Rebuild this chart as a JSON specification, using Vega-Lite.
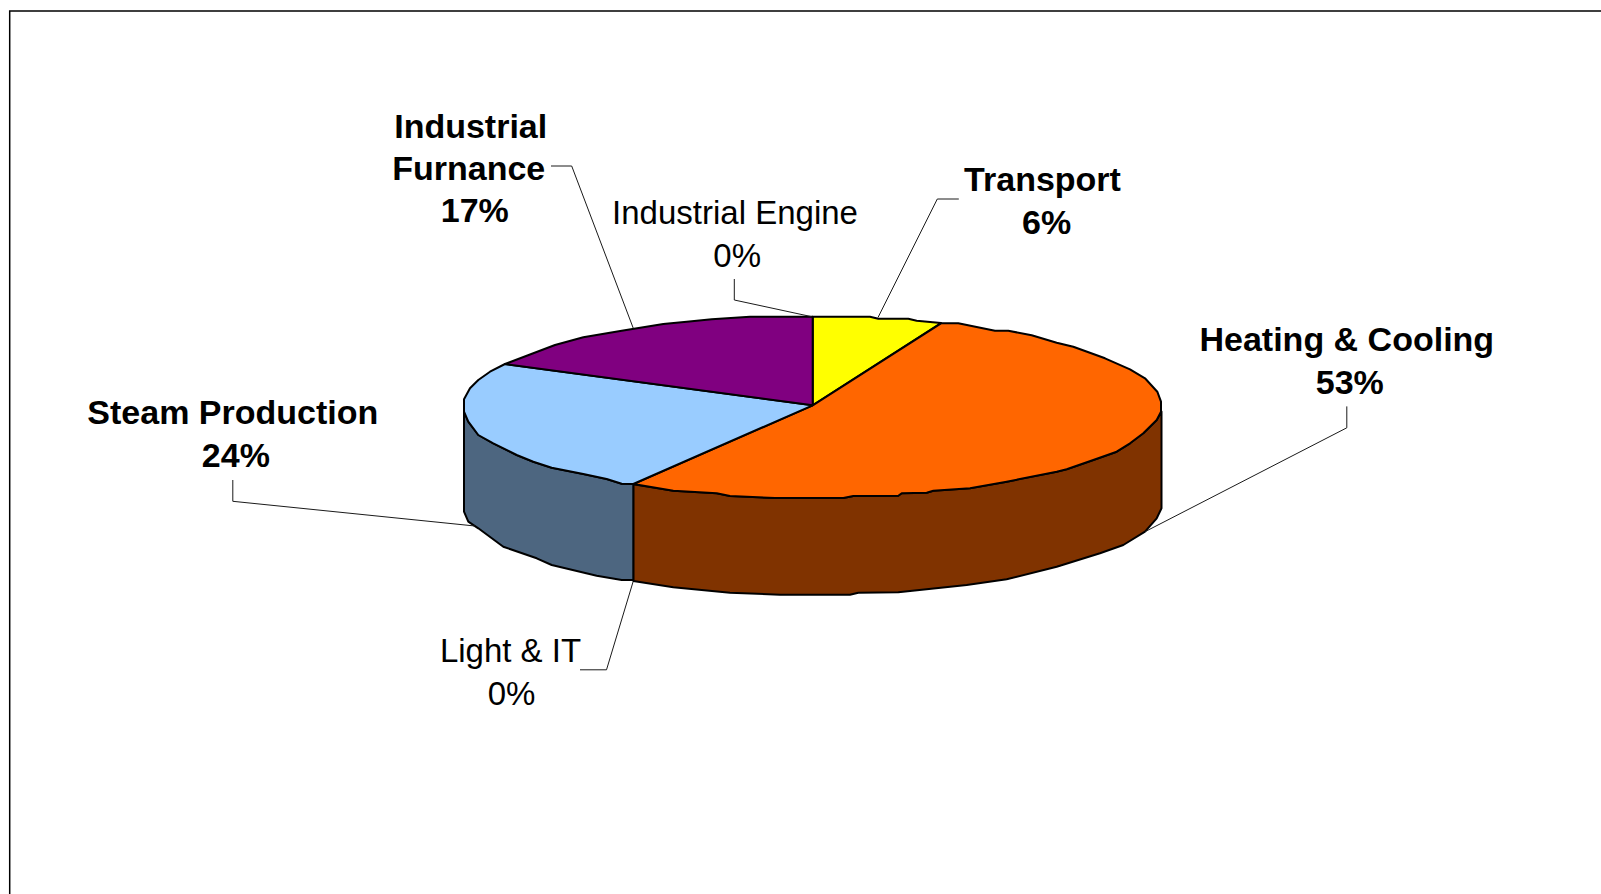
{"$schema":"https://vega.github.io/schema/vega-lite/v6.json","width":1601,"height":894,"autosize":"none","padding":0,"background":"white","view":{"stroke":null},
"datasets":{
"pieces":[
{"piece":"Heating side","n":0,"x":633.3,"y":484.3},{"piece":"Heating side","n":1,"x":673.3,"y":490.7},{"piece":"Heating side","n":2,"x":716.7,"y":493.3},{"piece":"Heating side","n":3,"x":730,"y":496},{"piece":"Heating side","n":4,"x":775,"y":498},{"piece":"Heating side","n":5,"x":843.3,"y":498},{"piece":"Heating side","n":6,"x":853.3,"y":496},{"piece":"Heating side","n":7,"x":898.3,"y":495.7},{"piece":"Heating side","n":8,"x":901.7,"y":493.3},{"piece":"Heating side","n":9,"x":926.7,"y":492.7},{"piece":"Heating side","n":10,"x":933.3,"y":490.7},{"piece":"Heating side","n":11,"x":970,"y":488.3},{"piece":"Heating side","n":12,"x":1006.7,"y":481.7},{"piece":"Heating side","n":13,"x":1056.7,"y":471.7},{"piece":"Heating side","n":14,"x":1066.7,"y":469.3},{"piece":"Heating side","n":15,"x":1093.3,"y":460},{"piece":"Heating side","n":16,"x":1116.7,"y":451.7},{"piece":"Heating side","n":17,"x":1130,"y":443.3},{"piece":"Heating side","n":18,"x":1143.3,"y":433.3},{"piece":"Heating side","n":19,"x":1156.7,"y":420},{"piece":"Heating side","n":20,"x":1161.5,"y":411.7},{"piece":"Heating side","n":21,"x":1161.5,"y":508.3},{"piece":"Heating side","n":22,"x":1156.7,"y":518.3},{"piece":"Heating side","n":23,"x":1145,"y":531.7},{"piece":"Heating side","n":24,"x":1123.3,"y":545},{"piece":"Heating side","n":25,"x":1100,"y":553.3},{"piece":"Heating side","n":26,"x":1056.7,"y":566.7},{"piece":"Heating side","n":27,"x":1006.7,"y":579.3},{"piece":"Heating side","n":28,"x":966.7,"y":585},{"piece":"Heating side","n":29,"x":898.3,"y":592.3},{"piece":"Heating side","n":30,"x":858.3,"y":592.7},{"piece":"Heating side","n":31,"x":850,"y":594.7},{"piece":"Heating side","n":32,"x":780,"y":594.7},{"piece":"Heating side","n":33,"x":730,"y":592.7},{"piece":"Heating side","n":34,"x":673.3,"y":587.3},{"piece":"Heating side","n":35,"x":633.3,"y":581},{"piece":"Heating side","n":36,"x":633.3,"y":484.3},
{"piece":"Steam side","n":0,"x":464,"y":411.7},{"piece":"Steam side","n":1,"x":468.3,"y":421.7},{"piece":"Steam side","n":2,"x":478.3,"y":435},{"piece":"Steam side","n":3,"x":493.3,"y":443.3},{"piece":"Steam side","n":4,"x":516.7,"y":455},{"piece":"Steam side","n":5,"x":533.3,"y":461.7},{"piece":"Steam side","n":6,"x":551.7,"y":467.7},{"piece":"Steam side","n":7,"x":583.3,"y":474},{"piece":"Steam side","n":8,"x":606.7,"y":479},{"piece":"Steam side","n":9,"x":621.7,"y":483.7},{"piece":"Steam side","n":10,"x":633.3,"y":483.7},{"piece":"Steam side","n":11,"x":633.3,"y":580},{"piece":"Steam side","n":12,"x":621.7,"y":580},{"piece":"Steam side","n":13,"x":596.7,"y":575.7},{"piece":"Steam side","n":14,"x":551.7,"y":565},{"piece":"Steam side","n":15,"x":536.7,"y":558.3},{"piece":"Steam side","n":16,"x":503.3,"y":546.7},{"piece":"Steam side","n":17,"x":478.3,"y":528.3},{"piece":"Steam side","n":18,"x":468.3,"y":521.7},{"piece":"Steam side","n":19,"x":464,"y":511.7},{"piece":"Steam side","n":20,"x":464,"y":411.7},
{"piece":"Transport","n":0,"x":812.7,"y":405.3},{"piece":"Transport","n":1,"x":812.7,"y":316.7},{"piece":"Transport","n":2,"x":870,"y":316.7},{"piece":"Transport","n":3,"x":878.3,"y":318.7},{"piece":"Transport","n":4,"x":908.3,"y":318.7},{"piece":"Transport","n":5,"x":916.7,"y":320.7},{"piece":"Transport","n":6,"x":941,"y":323},{"piece":"Transport","n":7,"x":812.7,"y":405.3},
{"piece":"Heating","n":0,"x":812.7,"y":405.3},{"piece":"Heating","n":1,"x":941,"y":323.3},{"piece":"Heating","n":2,"x":958.3,"y":323.3},{"piece":"Heating","n":3,"x":995,"y":330.7},{"piece":"Heating","n":4,"x":1008.3,"y":330.7},{"piece":"Heating","n":5,"x":1031.7,"y":335.3},{"piece":"Heating","n":6,"x":1056.7,"y":342.7},{"piece":"Heating","n":7,"x":1073.3,"y":346.7},{"piece":"Heating","n":8,"x":1093.3,"y":354},{"piece":"Heating","n":9,"x":1105,"y":358.3},{"piece":"Heating","n":10,"x":1130,"y":369.3},{"piece":"Heating","n":11,"x":1145,"y":378.3},{"piece":"Heating","n":12,"x":1157.3,"y":391.7},{"piece":"Heating","n":13,"x":1161,"y":401.7},{"piece":"Heating","n":14,"x":1161,"y":411.7},{"piece":"Heating","n":15,"x":1156.7,"y":420},{"piece":"Heating","n":16,"x":1143.3,"y":433.3},{"piece":"Heating","n":17,"x":1130,"y":443.3},{"piece":"Heating","n":18,"x":1116.7,"y":451.7},{"piece":"Heating","n":19,"x":1093.3,"y":460},{"piece":"Heating","n":20,"x":1066.7,"y":469.3},{"piece":"Heating","n":21,"x":1056.7,"y":471.7},{"piece":"Heating","n":22,"x":1006.7,"y":481.7},{"piece":"Heating","n":23,"x":970,"y":488.3},{"piece":"Heating","n":24,"x":933.3,"y":490.7},{"piece":"Heating","n":25,"x":926.7,"y":492.7},{"piece":"Heating","n":26,"x":901.7,"y":493.3},{"piece":"Heating","n":27,"x":898.3,"y":495.7},{"piece":"Heating","n":28,"x":853.3,"y":496},{"piece":"Heating","n":29,"x":843.3,"y":498},{"piece":"Heating","n":30,"x":775,"y":498},{"piece":"Heating","n":31,"x":730,"y":496},{"piece":"Heating","n":32,"x":716.7,"y":493.3},{"piece":"Heating","n":33,"x":673.3,"y":490.7},{"piece":"Heating","n":34,"x":633.3,"y":484},{"piece":"Heating","n":35,"x":812.7,"y":405.3},
{"piece":"Steam","n":0,"x":812.7,"y":405.3},{"piece":"Steam","n":1,"x":633.3,"y":484},{"piece":"Steam","n":2,"x":621.7,"y":483.7},{"piece":"Steam","n":3,"x":606.7,"y":479},{"piece":"Steam","n":4,"x":583.3,"y":474},{"piece":"Steam","n":5,"x":551.7,"y":467.7},{"piece":"Steam","n":6,"x":533.3,"y":461.7},{"piece":"Steam","n":7,"x":516.7,"y":455},{"piece":"Steam","n":8,"x":493.3,"y":443.3},{"piece":"Steam","n":9,"x":478.3,"y":435},{"piece":"Steam","n":10,"x":468.3,"y":421.7},{"piece":"Steam","n":11,"x":464,"y":411.7},{"piece":"Steam","n":12,"x":464,"y":399.3},{"piece":"Steam","n":13,"x":470,"y":388.3},{"piece":"Steam","n":14,"x":478.3,"y":380},{"piece":"Steam","n":15,"x":490,"y":371.7},{"piece":"Steam","n":16,"x":505,"y":364},{"piece":"Steam","n":17,"x":812.7,"y":405.3},
{"piece":"Furnance","n":0,"x":812.7,"y":405.3},{"piece":"Furnance","n":1,"x":505,"y":364},{"piece":"Furnance","n":2,"x":533.3,"y":353.3},{"piece":"Furnance","n":3,"x":555,"y":345},{"piece":"Furnance","n":4,"x":583.3,"y":337.3},{"piece":"Furnance","n":5,"x":621.7,"y":330.7},{"piece":"Furnance","n":6,"x":663.3,"y":324},{"piece":"Furnance","n":7,"x":686.7,"y":321.7},{"piece":"Furnance","n":8,"x":711.7,"y":319.3},{"piece":"Furnance","n":9,"x":750,"y":316.7},{"piece":"Furnance","n":10,"x":812.7,"y":316.7},{"piece":"Furnance","n":11,"x":812.7,"y":405.3}
],
"frame":[{"n":0,"x":9.7,"y":894},{"n":1,"x":9.7,"y":11},{"n":2,"x":1601,"y":11}],
"leaders":[
{"id":"furnance","n":0,"x":551,"y":166},{"id":"furnance","n":1,"x":571.7,"y":166},{"id":"furnance","n":2,"x":633.3,"y":328.3},
{"id":"engine","n":0,"x":734.3,"y":279},{"id":"engine","n":1,"x":734.3,"y":300},{"id":"engine","n":2,"x":811.7,"y":316.7},
{"id":"transport","n":0,"x":958.8,"y":199},{"id":"transport","n":1,"x":937.3,"y":199},{"id":"transport","n":2,"x":878,"y":317.5},
{"id":"heating","n":0,"x":1346.8,"y":406.4},{"id":"heating","n":1,"x":1346.8,"y":427.8},{"id":"heating","n":2,"x":1145,"y":531.7},
{"id":"steam","n":0,"x":232.8,"y":480},{"id":"steam","n":1,"x":232.8,"y":501.3},{"id":"steam","n":2,"x":475,"y":526},
{"id":"light","n":0,"x":580,"y":669.8},{"id":"light","n":1,"x":606.5,"y":669.8},{"id":"light","n":2,"x":633,"y":582}
],
"bold":[
{"t":"Industrial","x":470.7,"y":137.8},{"t":"Furnance","x":468.7,"y":179.7},{"t":"17%","x":474.8,"y":222},
{"t":"Transport","x":1042.5,"y":191},{"t":"6%","x":1046.6,"y":233.8},
{"t":"Heating & Cooling","x":1346.8,"y":351},{"t":"53%","x":1349.8,"y":394},
{"t":"Steam Production","x":232.8,"y":423.7},{"t":"24%","x":235.9,"y":466.6}],
"plain":[
{"t":"Industrial Engine","x":735,"y":223.6},{"t":"0%","x":737.2,"y":266.5},
{"t":"Light & IT","x":510.5,"y":661.6},{"t":"0%","x":511.5,"y":704.5}
]},
"encoding":{"x":{"field":"x","type":"quantitative","scale":{"domain":[0,1601],"nice":false,"zero":false},"axis":null},"y":{"field":"y","type":"quantitative","scale":{"domain":[894,0],"nice":false,"zero":false},"axis":null}},
"layer":[
{"data":{"name":"pieces"},"mark":{"type":"line","stroke":"black","strokeWidth":2,"strokeJoin":"round"},
"encoding":{"order":{"field":"n"},"detail":{"field":"piece"},
"fill":{"field":"piece","type":"nominal","legend":null,"scale":{"domain":["Heating side","Steam side","Transport","Heating","Steam","Furnance"],"range":["#803300","#4D6680","#FFFF00","#FF6600","#99CCFF","#800080"]}}}},
{"data":{"name":"frame"},"mark":{"type":"line","stroke":"black","strokeWidth":1.5},
"encoding":{"order":{"field":"n"}}},
{"data":{"name":"leaders"},"mark":{"type":"line","stroke":"#1a1a1a","strokeWidth":1},
"encoding":{"order":{"field":"n"},"detail":{"field":"id"}}},
{"data":{"name":"bold"},"mark":{"type":"text","font":"Liberation Sans","fontSize":34,"fontWeight":"bold","align":"center","baseline":"alphabetic","color":"black"},
"encoding":{"text":{"field":"t"}}},
{"data":{"name":"plain"},"mark":{"type":"text","font":"Liberation Sans","fontSize":33,"align":"center","baseline":"alphabetic","color":"black"},
"encoding":{"text":{"field":"t"}}}
]}
